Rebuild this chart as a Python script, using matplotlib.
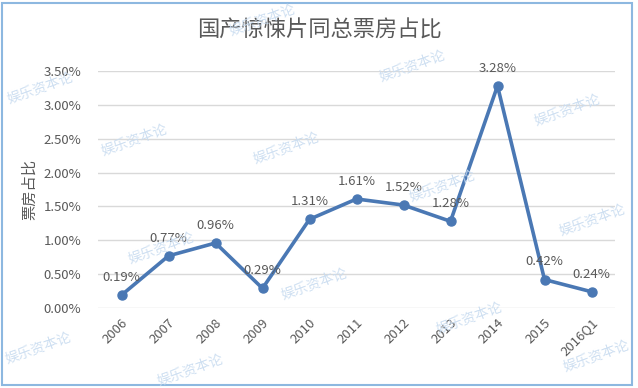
import matplotlib
matplotlib.use("Agg")
import matplotlib.pyplot as plt
from matplotlib.patches import Rectangle
from matplotlib.ticker import FuncFormatter

plt.rcParams['font.family'] = ['Noto Sans CJK SC', 'DejaVu Sans']

# data
years = ["2006", "2007", "2008", "2009", "2010", "2011", "2012", "2013", "2014", "2015", "2016Q1"]
share = [0.19, 0.77, 0.96, 0.29, 1.31, 1.61, 1.52, 1.28, 3.28, 0.42, 0.24]
y_ticks = [0.0, 0.5, 1.0, 1.5, 2.0, 2.5, 3.0, 3.5]
title = "国产惊悚片同总票房占比"
ylabel = "票房占比"
watermark = "娱乐资本论"

# watermark spots (pixel coords from top-left)
wm_spots = [(262, 20), (412, 66), (567, 110), (134, 140), (286, 148), (442, 186),
            (592, 220), (161, 248), (314, 284), (469, 318), (38, 348), (190, 370), (596, 356), (40, 88)]

W, H = 638, 388
fig = plt.figure(figsize=(W / 100, H / 100), dpi=100)
ax = fig.add_axes([98 / W, 1 - 308 / H, (615 - 98) / W, (308 - 71) / H])

gray = "#595959"
blue = "#4a78b4"

x = list(range(len(years)))
ax.plot(x, share, color=blue, lw=2.6, marker="o", ms=6.5, zorder=3)
for xi, v in zip(x, share):
    ax.annotate(f"{v:.2f}%", (xi, v), xytext=(0, 8), textcoords="offset points",
                ha="center", va="bottom", fontsize=9.5, color=gray, zorder=4)

ax.set_xlim(-0.5, len(years) - 0.5)
ax.set_ylim(0, 3.5)
ax.set_yticks(y_ticks)
ax.yaxis.set_major_formatter(FuncFormatter(lambda v, p: f"{v:.2f}%"))
ax.set_xticks(x)
ax.set_xticklabels(years, rotation=45, ha="right", rotation_mode="anchor")
ax.grid(axis="y", color="#d9d9d9", lw=1)
ax.set_axisbelow(True)
for s in ax.spines.values():
    s.set_visible(False)
ax.tick_params(length=0, colors=gray, labelsize=9.5)
ax.tick_params(axis="y", pad=12)
ax.tick_params(axis="x", pad=6)
ax.set_ylabel(ylabel, fontsize=11, color=gray, labelpad=4)

fig.text(0.5, 1 - 30 / H, title, ha="center", va="center", fontsize=16, color=gray)

for px, py in wm_spots:
    fig.text(px / W, 1 - py / H, watermark, ha="center", va="center", rotation=20,
             fontsize=10, color="#c9dcf0", alpha=0.9, zorder=10)

fig.patches.append(Rectangle((0.003, 0.008), 0.988, 0.985, transform=fig.transFigure,
                             fill=False, ec="#8db8e0", lw=1.5))

fig.savefig("out.png", dpi=100, facecolor="white")
